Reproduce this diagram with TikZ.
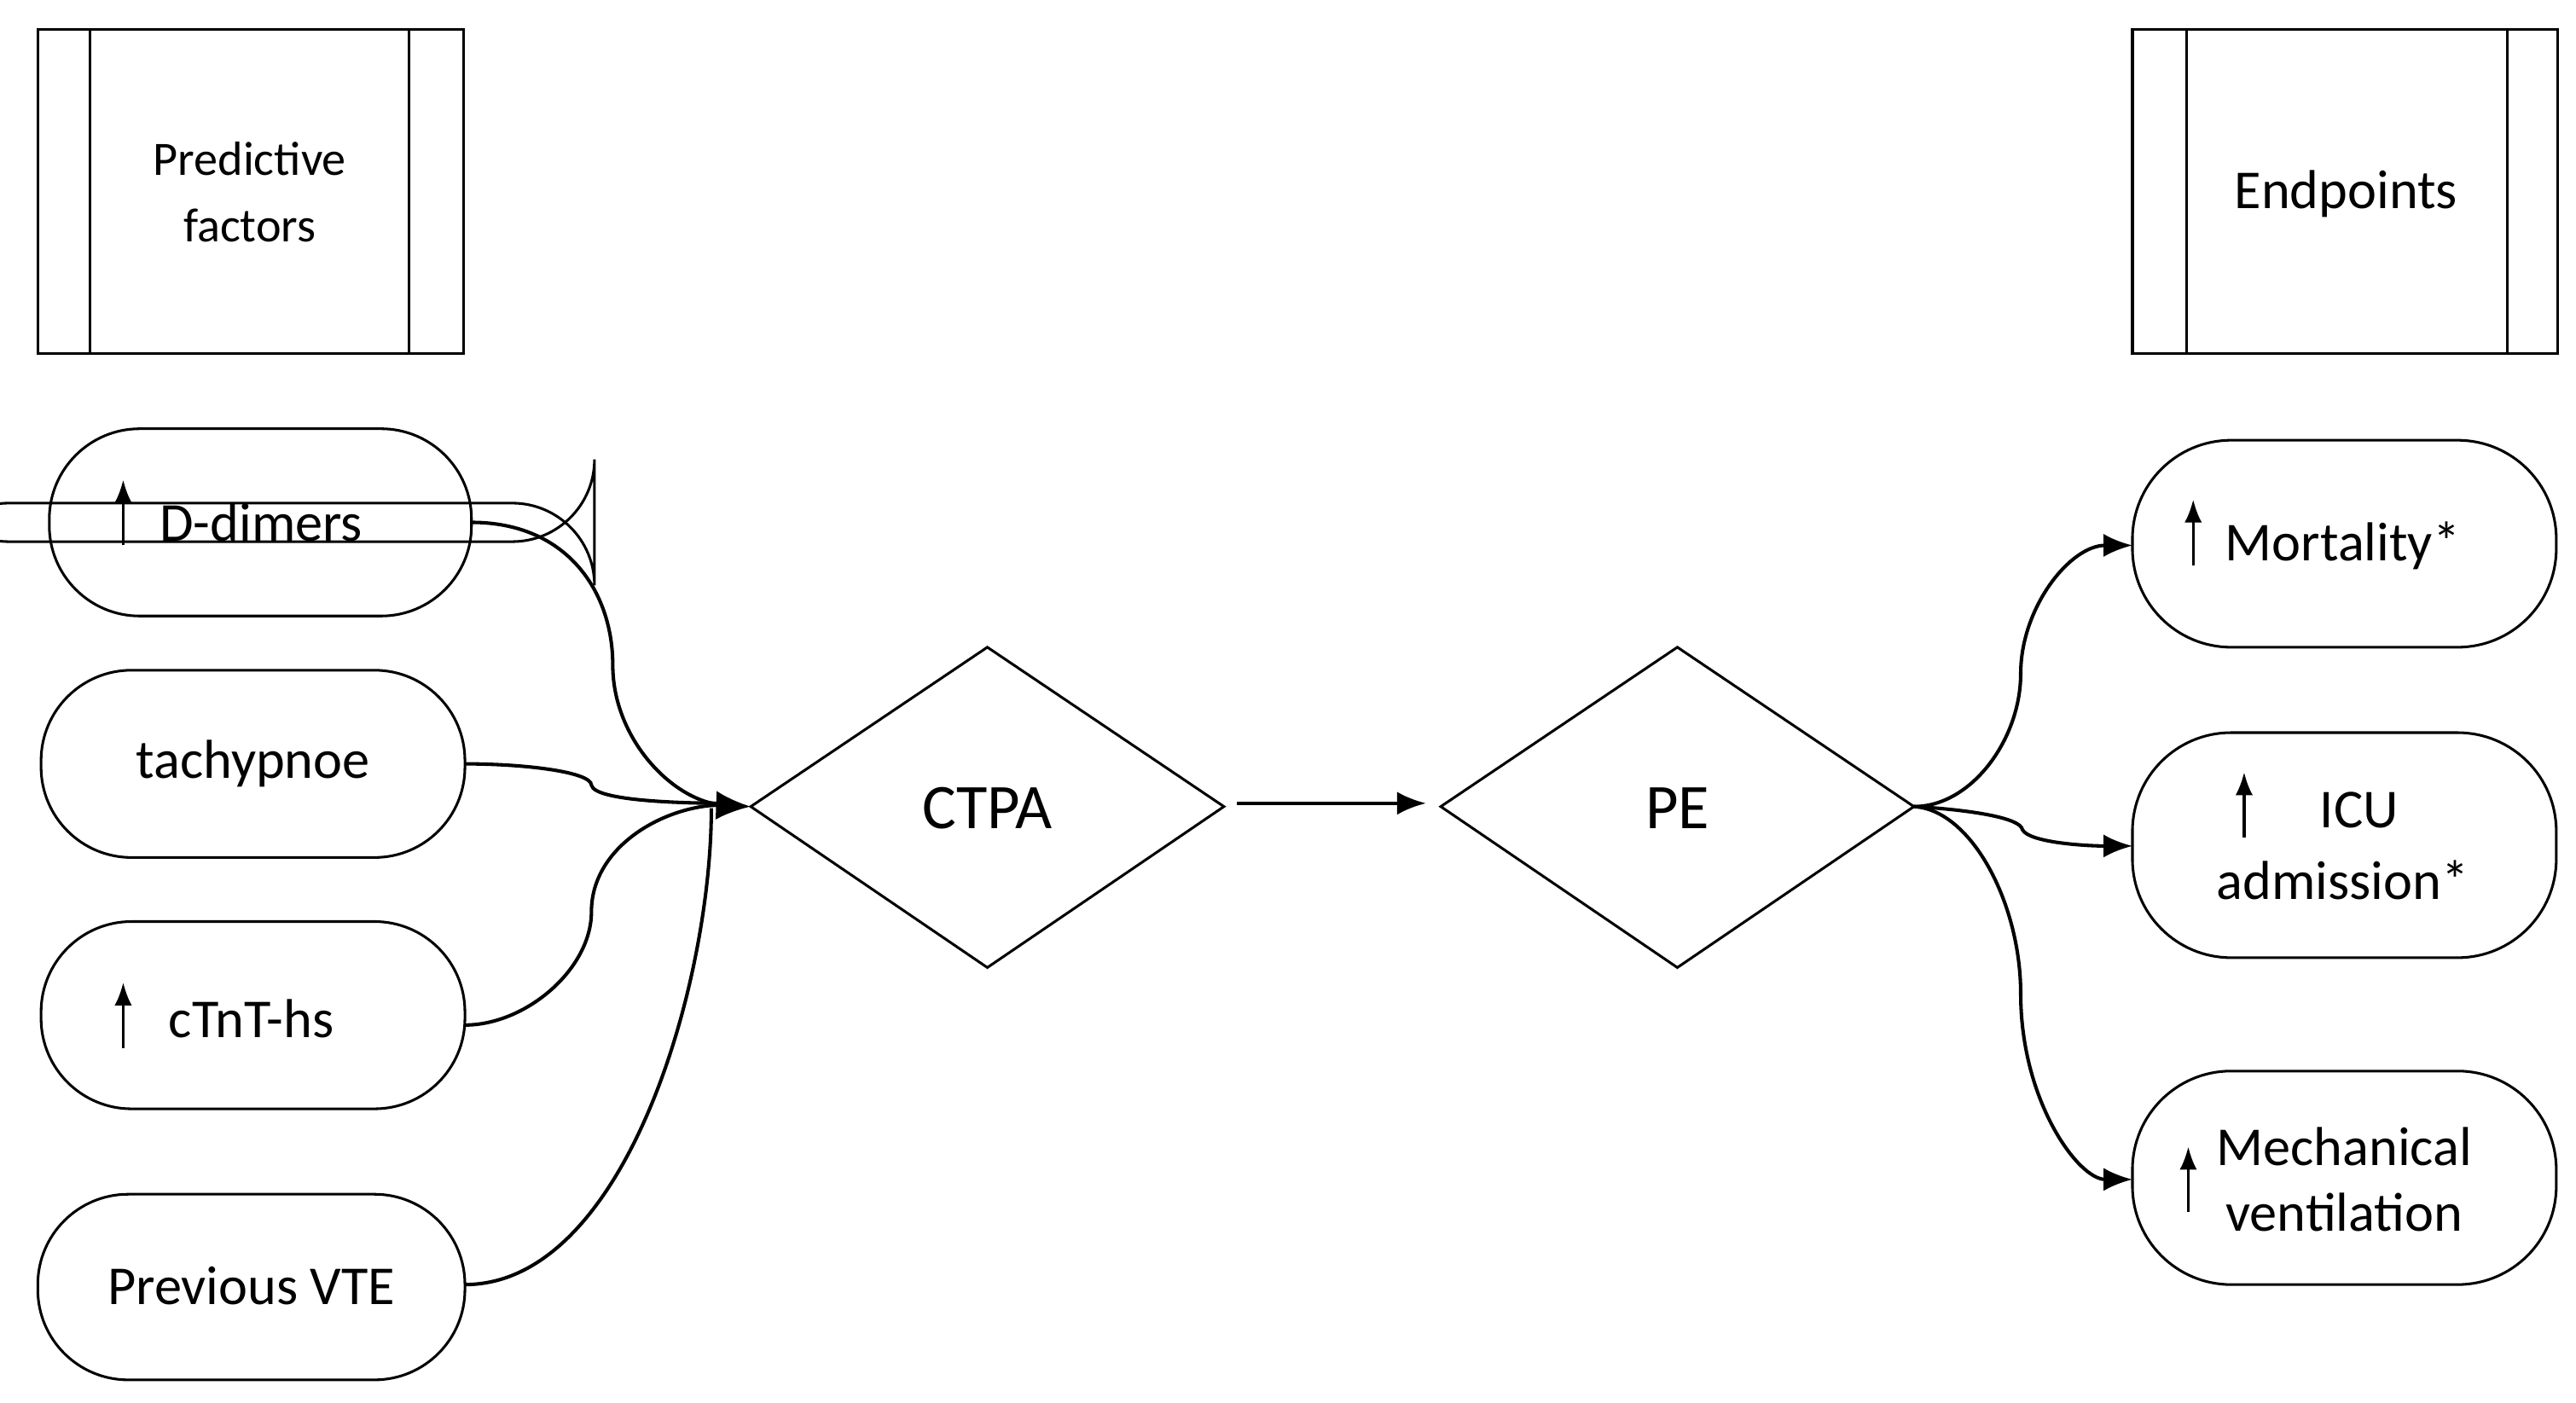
\documentclass[tikz,border=0pt]{standalone}
\usepackage{fontspec}
\setmainfont{Carlito}
\usetikzlibrary{shapes.geometric,arrows.meta}
\begin{document}
\begin{tikzpicture}[x=0.01cm,y=-0.01cm,line width=0.45pt,
  rbox/.style={draw,rounded corners=0.5cm,align=center,font=\fontsize{9.5}{11.5}\selectfont},
  dia/.style={draw,diamond,inner sep=0pt,font=\fontsize{11}{13}\selectfont},
  conn/.style={line width=0.6pt},
  up/.style={-{Latex[length=4pt,width=3pt]},line width=0.5pt}]
\useasboundingbox (0,0) rectangle (1568,854);
% header boxes
\draw (23,18) rectangle (282,215); \draw (55,18)--(55,215); \draw (249,18)--(249,215);
\node[align=center,font=\fontsize{8.3}{11.5}\selectfont] (pf) at (152,117) {Predictive\\factors};
\draw (1298,18) rectangle (1557,215); \draw (1331,18)--(1331,215); \draw (1526,18)--(1526,215);
\node[font=\fontsize{9.5}{11.5}\selectfont] (ep) at (1428,118) {Endpoints};
% left nodes
\node[rbox,minimum width=257\pgflinewidth] (dd) at (158.5,318) {};
\draw[rounded corners=0.55cm] (30,261) rectangle (287,375);
\node[font=\fontsize{9.5}{11.5}\selectfont] (ddt) at (159,318) {D-dimers};
\draw[rounded corners=0.55cm] (25,408) rectangle (283,522);
\node[font=\fontsize{9.5}{11.5}\selectfont] (tat) at (154,465) {tachypnoe};
\draw[rounded corners=0.55cm] (25,561) rectangle (283,675);
\node[font=\fontsize{9.5}{11.5}\selectfont] (ctt) at (153,620) {cTnT-hs};
\draw[rounded corners=0.55cm] (23,727) rectangle (283,840);
\node[font=\fontsize{9.5}{11.5}\selectfont] (pvt) at (153,783) {Previous VTE};
% right nodes
\draw[rounded corners=0.6cm] (1298,268) rectangle (1556,394);
\node[font=\fontsize{9.5}{11.5}\selectfont] (mot) at (1426,332) {Mortality*};
\draw[rounded corners=0.6cm] (1298,446) rectangle (1556,583);
\node[align=center,font=\fontsize{9.5}{12.5}\selectfont] (icut) at (1426,515) {\hspace*{0.6em}ICU\\admission*};
\draw[rounded corners=0.6cm] (1298,652) rectangle (1556,782);
\node[align=center,font=\fontsize{9.5}{11.5}\selectfont] (mvt) at (1427,718) {Mechanical\\ventilation};
% up arrows
\draw[up] (75,332)--(75,292);
\draw[up] (75,638)--(75,598);
\draw[up] (1335,344)--(1335,304);
\draw[up] (1366,510)--(1366,470);
\draw[up] (1332,738)--(1332,698);
% diamonds
\draw (457,491)--(601,394)--(745,491)--(601,589)--cycle;
\node[font=\fontsize{11}{13}\selectfont] (ctpa) at (601,492) {CTPA};
\draw (877,491)--(1021,394)--(1165,491)--(1021,589)--cycle;
\node[font=\fontsize{11}{13}\selectfont] (pe) at (1021,492) {PE};
\coordinate (ctl) at (457,491);
\coordinate (per) at (1165,491);
\draw[-{Latex[length=5pt,width=4pt]},line width=0.6pt] (753,489)--(868,489);
% left connectors
\draw[conn] (287,318) .. controls (345,318) and (373,360) .. (373,405) .. controls (373,450) and (410,488) .. (440,490);
\draw[conn] (283,465) .. controls (320,465) and (360,470) .. (360,478) .. controls (362,488) and (420,489) .. (440,489);
\draw[conn] (283,624) .. controls (320,624) and (360,590) .. (360,555) .. controls (360,515) and (405,490) .. (440,490);
\draw[conn] (283,782) .. controls (380,782) and (433,600) .. (433,492);
\draw[-{Latex[length=6pt,width=5pt]},line width=0.6pt] (430,490)--(ctl);
% right connectors
\draw[conn,-{Latex[length=5pt,width=4pt]}] (per) .. controls (1200,491) and (1230,450) .. (1230,410) .. controls (1230,370) and (1260,332) .. (1298,332);
\draw[conn,-{Latex[length=5pt,width=4pt]}] (per) .. controls (1200,493) and (1230,498) .. (1231,505) .. controls (1235,513) and (1270,515) .. (1298,515);
\draw[conn,-{Latex[length=5pt,width=4pt]}] (per) .. controls (1200,493) and (1230,550) .. (1230,605) .. controls (1230,670) and (1265,718) .. (1298,718);
\end{tikzpicture}
\end{document}
